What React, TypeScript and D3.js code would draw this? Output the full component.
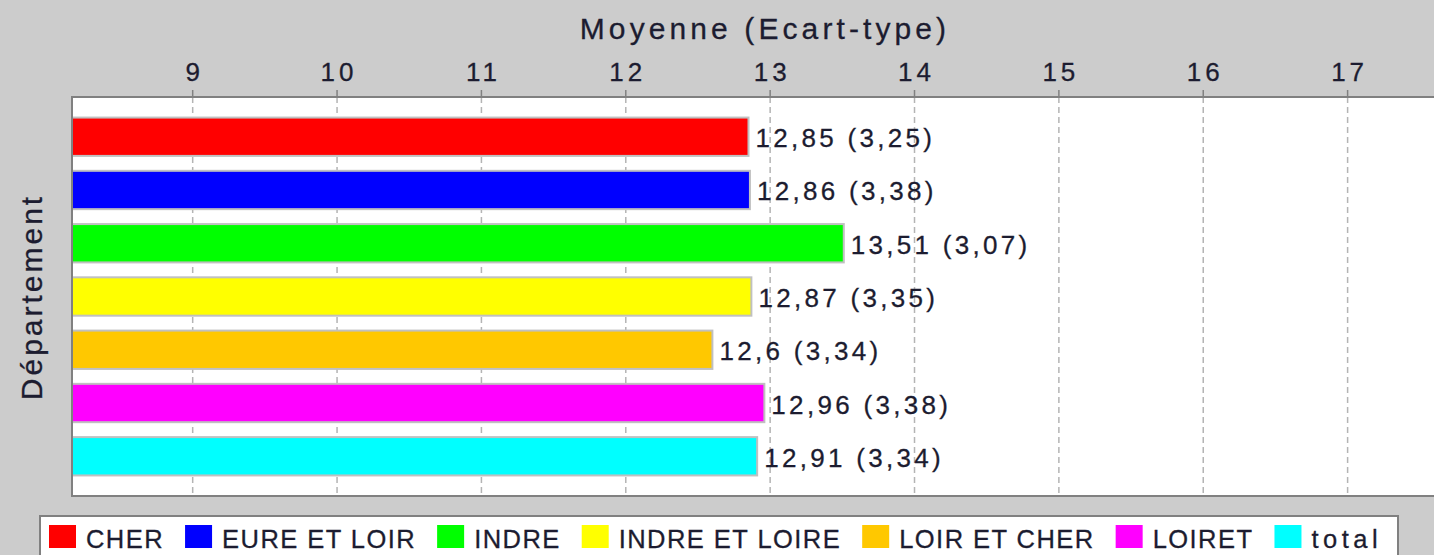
import React, { useEffect, useRef } from "react";
import * as d3 from "d3";

const departements = ["CHER", "EURE ET LOIR", "INDRE", "INDRE ET LOIRE", "LOIR ET CHER", "LOIRET", "total"];
const moyennes = [12.85, 12.86, 13.51, 12.87, 12.6, 12.96, 12.91];
const ecartsTypes = [3.25, 3.38, 3.07, 3.35, 3.34, 3.38, 3.34];
const couleurs = ["#ff0000", "#0000ff", "#00ff00", "#ffff00", "#ffc800", "#ff00ff", "#00ffff"];
const xTicks = [9, 10, 11, 12, 13, 14, 15, 16, 17];

const fmt = (v: number) => String(v).replace(".", ",");

const App = () => {
  const svgRef = useRef<SVGSVGElement>(null);

  useEffect(() => {
    const width = 1434, height = 555;
    const plot = { left: 72, top: 97, right: 1440, bottom: 496 };
    const font = "'Liberation Sans', Arial, sans-serif";
    const ink = "#1c1c30";

    const root = d3.select(svgRef.current);
    root.selectAll("*").remove();
    root.attr("width", width).attr("height", height);

    const svg = root.append("g");

    svg.append("rect").attr("width", width).attr("height", height).attr("fill", "#cccccc");

    const x = d3.scaleLinear().domain([8.164, 17.64]).range([plot.left, plot.right]);
    const y = d3.scaleBand()
      .domain(departements)
      .range([plot.top, plot.bottom])
      .paddingInner(0.28)
      .paddingOuter(0.386);

    // zone du graphique
    svg.append("rect")
      .attr("x", plot.left)
      .attr("y", plot.top)
      .attr("width", plot.right - plot.left)
      .attr("height", plot.bottom - plot.top)
      .attr("fill", "#ffffff");

    // grille
    svg.selectAll(".grid")
      .data(xTicks)
      .enter()
      .append("line")
      .attr("x1", d => x(d))
      .attr("x2", d => x(d))
      .attr("y1", plot.top)
      .attr("y2", plot.bottom)
      .attr("stroke", "#b4b4b4")
      .attr("stroke-width", 1.5)
      .attr("stroke-dasharray", "6,4");

    // barres
    svg.selectAll(".bar")
      .data(departements)
      .enter()
      .append("rect")
      .attr("x", plot.left)
      .attr("y", d => y(d)!)
      .attr("width", (d, i) => x(moyennes[i]) - plot.left)
      .attr("height", y.bandwidth())
      .attr("fill", (d, i) => couleurs[i])
      .attr("stroke", "#c0c0c0")
      .attr("stroke-width", 2);

    // étiquettes des barres
    svg.selectAll(".lbl")
      .data(departements)
      .enter()
      .append("text")
      .attr("x", (d, i) => x(moyennes[i]) + 7)
      .attr("y", d => y(d)! + y.bandwidth() / 2 + 10.5)
      .attr("font-family", font)
      .attr("font-size", 26)
      .attr("letter-spacing", 3.3)
      .attr("fill", ink)
      .attr("stroke", ink)
      .attr("stroke-width", 0.3)
      .text((d, i) => `${fmt(moyennes[i])} (${fmt(ecartsTypes[i])})`);

    // bordures
    svg.append("path")
      .attr("d", `M${plot.left},${plot.bottom}V${plot.top}H${plot.right}`)
      .attr("fill", "none")
      .attr("stroke", "#808080")
      .attr("stroke-width", 2);
    svg.append("line")
      .attr("x1", plot.left - 1)
      .attr("x2", plot.right)
      .attr("y1", plot.bottom)
      .attr("y2", plot.bottom)
      .attr("stroke", "#808080")
      .attr("stroke-width", 2);

    // axe du haut
    svg.selectAll(".tick")
      .data(xTicks)
      .enter()
      .append("line")
      .attr("x1", d => x(d))
      .attr("x2", d => x(d))
      .attr("y1", plot.top - 7)
      .attr("y2", plot.top)
      .attr("stroke", "#808080")
      .attr("stroke-width", 1.5);

    svg.selectAll(".ticklbl")
      .data(xTicks)
      .enter()
      .append("text")
      .attr("x", d => x(d) + 2)
      .attr("y", 81)
      .attr("text-anchor", "middle")
      .attr("font-family", font)
      .attr("font-size", 26)
      .attr("letter-spacing", 4)
      .attr("fill", ink)
      .attr("stroke", ink)
      .attr("stroke-width", 0.3)
      .text(d => d);

    svg.append("text")
      .attr("x", 765)
      .attr("y", 39)
      .attr("text-anchor", "middle")
      .attr("font-family", font)
      .attr("font-size", 30)
      .attr("letter-spacing", 4.1)
      .attr("fill", ink)
      .attr("stroke", ink)
      .attr("stroke-width", 0.3)
      .text("Moyenne (Ecart-type)");

    svg.append("text")
      .attr("transform", "translate(42,297) rotate(-90)")
      .attr("text-anchor", "middle")
      .attr("font-family", font)
      .attr("font-size", 30)
      .attr("letter-spacing", 3)
      .attr("fill", ink)
      .attr("stroke", ink)
      .attr("stroke-width", 0.3)
      .text("Département");

    // légende
    svg.append("rect")
      .attr("x", 40)
      .attr("y", 516)
      .attr("width", 1358)
      .attr("height", 60)
      .attr("fill", "#ffffff")
      .attr("stroke", "#808080")
      .attr("stroke-width", 2);

    let cx = 49;
    departements.forEach((d, i) => {
      svg.append("rect")
        .attr("x", cx)
        .attr("y", 525)
        .attr("width", 27)
        .attr("height", 23)
        .attr("fill", couleurs[i]);
      const t = svg.append("text")
        .attr("x", cx + 37)
        .attr("y", 548)
        .attr("font-family", font)
        .attr("font-size", 25.5)
        .attr("letter-spacing", d === "total" ? 4.5 : 1.45)
        .attr("fill", ink)
        .attr("stroke", ink)
        .attr("stroke-width", 0.3)
        .text(d);
      const w = (t.node() as SVGTextElement).getComputedTextLength();
      cx += 37 + w + 21;
    });
  }, []);

  return (
    <svg ref={svgRef} style={{ position: "absolute", left: 0, top: 0, display: "block" }} />
  );
};

export default App;
